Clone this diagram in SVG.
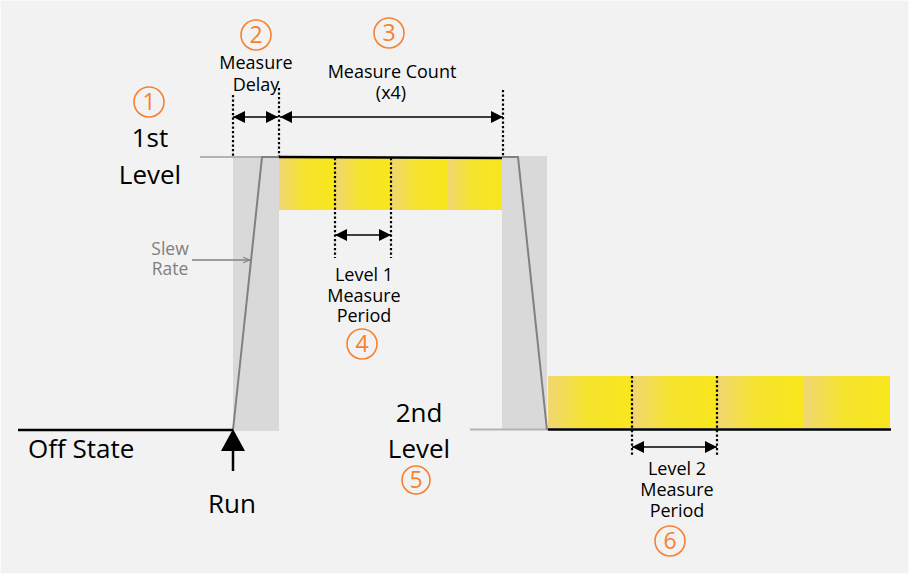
<svg xmlns="http://www.w3.org/2000/svg" width="909" height="574" viewBox="0 0 909 574">
<defs>
<linearGradient id="yg" x1="0" y1="0" x2="1" y2="0">
<stop offset="0" stop-color="#efd673"/>
<stop offset="0.45" stop-color="#f6e32e"/>
<stop offset="1" stop-color="#f8e71c"/>
</linearGradient>
<marker id="ah" viewBox="0 0 10 10" refX="10" refY="5" markerWidth="12" markerHeight="12" markerUnits="userSpaceOnUse" orient="auto-start-reverse">
<path d="M0,0 L10,5 L0,10 Z" fill="#000"/>
</marker>
<marker id="ahg" viewBox="0 0 10 10" refX="10" refY="5" markerWidth="7" markerHeight="7" markerUnits="userSpaceOnUse" orient="auto">
<path d="M0,1 L10,5 L0,9" fill="none" stroke="#808080" stroke-width="1.5"/>
</marker>
</defs>
<style>
text{font-family:"Open Sans","Noto Sans","Liberation Sans",sans-serif;fill:#000;text-anchor:middle}
.big{font-size:26px}
.sm{font-size:18px}
.gray{fill:#808080;font-size:17.5px}
.num{fill:#f58233;font-size:23px}
.circ{fill:none;stroke:#f58233;stroke-width:1.6}
.dot{stroke:#000;stroke-width:2.2;stroke-dasharray:2.2 2.3;fill:none}
.dim{stroke:#000;stroke-width:1.6;fill:none;marker-start:url(#ah);marker-end:url(#ah)}
.slew{fill:#d9d9d9}
.yel{fill:url(#yg)}
</style>
<rect x="0.5" y="0.5" width="908" height="573" fill="#f2f2f2" stroke="#fafafa"/>

<g id="slew-regions">
<rect class="slew" x="233" y="156" width="46" height="275"/>
<rect class="slew" x="502" y="156" width="45" height="274"/>
</g>

<g id="level1-bar">
<rect class="yel" x="279" y="158" width="56" height="52"/>
<rect class="yel" x="335" y="158" width="56" height="52"/>
<rect class="yel" x="391" y="158" width="56" height="52"/>
<rect class="yel" x="447" y="158" width="55" height="52"/>
</g>
<g id="level2-bar">
<rect class="yel" x="548" y="376" width="84" height="52"/>
<rect class="yel" x="632" y="376" width="85" height="52"/>
<rect class="yel" x="717" y="376" width="87" height="52"/>
<rect class="yel" x="804" y="376" width="86" height="52"/>
</g>

<g id="connectors">
<line x1="200" y1="157" x2="263" y2="157" stroke="#b3b3b3" stroke-width="2"/>
<line x1="470" y1="429.5" x2="548" y2="429.5" stroke="#b3b3b3" stroke-width="2"/>
<polyline points="233,430 262,157 279,157" fill="none" stroke="#808080" stroke-width="2"/>
<polyline points="502,157 518,157 547,430" fill="none" stroke="#808080" stroke-width="2"/>
<line x1="18" y1="430" x2="233" y2="430" stroke="#000" stroke-width="2.5"/>
<line x1="279" y1="157" x2="502" y2="158" stroke="#000" stroke-width="2.5"/>
<line x1="548" y1="429.5" x2="891" y2="429.5" stroke="#000" stroke-width="2.5"/>
<line class="dot" x1="233" y1="95" x2="233" y2="156"/>
<line class="dot" x1="279" y1="88" x2="279" y2="156"/>
<line class="dot" x1="503" y1="90" x2="503" y2="156"/>
<line class="dot" x1="335" y1="158" x2="335" y2="258"/>
<line class="dot" x1="391" y1="158" x2="391" y2="258"/>
<line class="dot" x1="632" y1="376" x2="632" y2="457"/>
<line class="dot" x1="717" y1="376" x2="717" y2="457"/>
<line class="dim" x1="233" y1="117" x2="278" y2="117"/>
<line class="dim" x1="280" y1="117" x2="503" y2="117"/>
<line class="dim" x1="335" y1="235" x2="391" y2="235"/>
<line class="dim" x1="632" y1="447" x2="717" y2="447"/>
<line x1="192" y1="260" x2="250" y2="260" stroke="#808080" stroke-width="1.5" marker-end="url(#ahg)"/>
<line x1="233" y1="471" x2="233" y2="445" stroke="#000" stroke-width="2.5"/>
<path d="M233,429 L245,451 L221,451 Z" fill="#000"/>
</g>

<g id="label-1st-level">
<circle class="circ" cx="149" cy="102" r="15"/>
<text class="num" x="149" y="110">1</text>
<text class="big" x="150" y="147">1st</text>
<text class="big" x="150" y="184">Level</text>
</g>
<g id="label-measure-delay">
<circle class="circ" cx="256" cy="35" r="15"/>
<text class="num" x="256" y="43">2</text>
<text class="sm" x="256" y="69">Measure</text>
<text class="sm" x="256" y="91">Delay</text>
</g>
<g id="label-measure-count">
<circle class="circ" cx="389" cy="33" r="15"/>
<text class="num" x="389" y="41">3</text>
<text class="sm" x="392" y="78">Measure Count</text>
<text class="sm" x="391" y="99">(x4)</text>
</g>
<g id="label-level1-period">
<text class="sm" x="364" y="281">Level 1</text>
<text class="sm" x="364" y="302">Measure</text>
<text class="sm" x="364" y="322">Period</text>
<circle class="circ" cx="362" cy="344" r="15"/>
<text class="num" x="362" y="352">4</text>
</g>
<g id="label-2nd-level">
<text class="big" x="419" y="422">2nd</text>
<text class="big" x="419" y="458">Level</text>
<circle class="circ" cx="416" cy="480" r="14"/>
<text class="num" x="416" y="488">5</text>
</g>
<g id="label-level2-period">
<text class="sm" x="677" y="475">Level 2</text>
<text class="sm" x="677" y="496">Measure</text>
<text class="sm" x="677" y="517">Period</text>
<circle class="circ" cx="670" cy="541" r="15"/>
<text class="num" x="670" y="549">6</text>
</g>
<g id="label-slew-rate">
<text class="gray" x="170" y="255">Slew</text>
<text class="gray" x="170" y="275">Rate</text>
</g>
<g id="label-off-state">
<text class="big" x="28" y="458" style="text-anchor:start">Off State</text>
</g>
<g id="label-run">
<text class="big" x="232" y="513">Run</text>
</g>
</svg>
